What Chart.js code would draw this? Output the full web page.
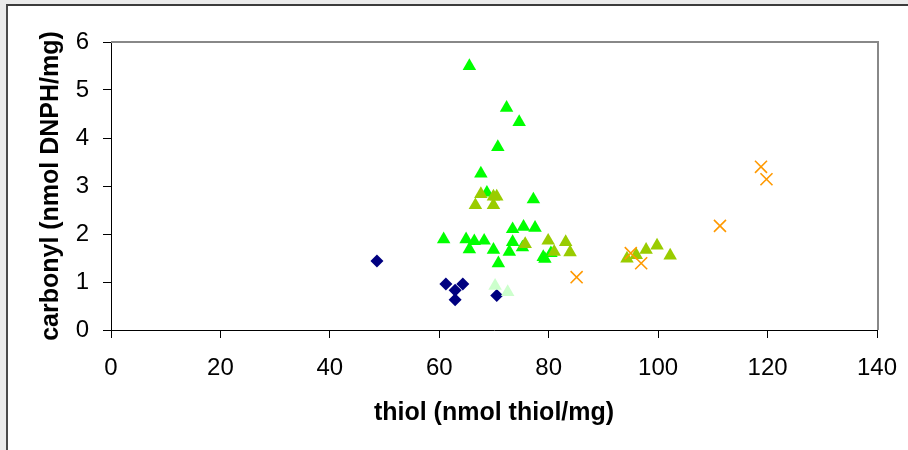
<!DOCTYPE html>
<html>
<head>
<meta charset="utf-8">
<script src="https://cdn.jsdelivr.net/npm/chart.js@4.4.1/dist/chart.umd.min.js"></script>
<style>
  html, body { margin: 0; padding: 0; background: #ebebeb; overflow: hidden; width: 908px; height: 450px; }
  #frame {
    position: absolute; left: 6px; top: 4px; width: 900px; height: 444px;
    border-top: 2px solid #3c3c3c; border-left: 2px solid #4a4a4a;
    background: #fff;
  }
  #wrap { position: absolute; left: 0; top: 0; width: 900px; height: 444px; }
</style>
</head>
<body>
<div id="frame"><div id="wrap"><canvas id="scatterChart"></canvas></div></div>
<script>
// valores (thiol, carbonyl)
const navyX = [48.6, 61.2, 64.3, 62.9, 62.9, 70.5];
const navyY = [1.44, 0.96, 0.96, 0.83, 0.63, 0.72];

const greenX = [65.5, 72.3, 74.6, 70.7, 67.6, 68.7, 77.2, 60.8, 64.9, 66.4, 68.2, 65.5,
                69.9, 70.8, 73.4, 75.4, 77.5, 73.4, 72.8, 75.2, 79.0, 79.3, 80.4];
const greenY = [5.50, 4.63, 4.33, 3.81, 3.26, 2.86, 2.72, 1.89, 1.89, 1.85, 1.86, 1.68,
                1.67, 1.39, 2.10, 2.15, 2.13, 1.83, 1.63, 1.72, 1.52, 1.48, 1.60];

const paleX = [70.2, 72.5];
const paleY = [0.92, 0.79];

const oliveX = [67.6, 66.6, 69.9, 70.5, 69.9, 75.7, 79.9, 81.0, 83.1, 83.9, 94.3, 96.0, 97.8, 99.8, 102.2];
const oliveY = [2.83, 2.60, 2.78, 2.78, 2.60, 1.79, 1.86, 1.63, 1.83, 1.62, 1.49, 1.56, 1.67, 1.76, 1.55];

const orangeX = [85.1, 95.0, 96.9, 111.3, 118.8, 119.8];
const orangeY = [1.10, 1.60, 1.39, 2.17, 3.40, 3.14];

const xTicks = [0, 20, 40, 60, 80, 100, 120, 140];
const yTicks = [0, 1, 2, 3, 4, 5, 6];

function toPoints(xs, ys) {
    return xs.map((x, i) => ({ x: x, y: ys[i] }));
}

Chart.defaults.font.family = '"Liberation Sans", Arial, sans-serif';
Chart.defaults.color = '#000';

// borde gris arriba y a la derecha del area del grafico
const plotFrame = {
    id: 'plotFrame',
    afterDraw(chart) {
        const { ctx, chartArea: a } = chart;
        ctx.save();
        ctx.strokeStyle = '#888888';
        ctx.lineWidth = 2;
        ctx.beginPath();
        ctx.moveTo(a.left, a.top);
        ctx.lineTo(a.right + 1, a.top);
        ctx.lineTo(a.right + 1, a.bottom);
        ctx.stroke();
        ctx.restore();
    }
};

const ctx = document.getElementById('scatterChart').getContext('2d');
const scatterChart = new Chart(ctx, {
    type: 'scatter',
    data: {
        datasets: [
            { data: toPoints(orangeX, orangeY), pointStyle: 'crossRot', radius: 8.5,
              borderColor: '#ff9900', backgroundColor: '#ff9900', borderWidth: 1.6 },
            { data: toPoints(oliveX, oliveY), pointStyle: 'triangle', radius: 7.8,
              borderColor: '#99cc00', backgroundColor: '#99cc00', borderWidth: 0 },
            { data: toPoints(paleX, paleY), pointStyle: 'triangle', radius: 7.8,
              borderColor: '#ccffcc', backgroundColor: '#ccffcc', borderWidth: 0 },
            { data: toPoints(greenX, greenY), pointStyle: 'triangle', radius: 7.8,
              borderColor: '#00ff00', backgroundColor: '#00ff00', borderWidth: 0 },
            { data: toPoints(navyX, navyY), pointStyle: 'rectRot', radius: 6.5,
              borderColor: '#000080', backgroundColor: '#000080', borderWidth: 0 }
        ]
    },
    options: {
        responsive: true,
        maintainAspectRatio: false,
        animation: false,
        events: [],
        layout: { padding: { top: 36, right: 31, left: 0, bottom: 0 } },
        scales: {
            x: {
                type: 'linear', min: 0, max: 140,
                afterFit: (s) => { s.height = 120; s.paddingLeft = 0; s.paddingRight = 0; },
                afterBuildTicks: (s) => { s.ticks = xTicks.map(v => ({ value: v })); },
                grid: { drawOnChartArea: false, drawTicks: true, tickLength: 8, color: '#000' },
                border: { color: '#000', width: 1 },
                ticks: { font: { size: 24 }, padding: 16, maxRotation: 0 },
                title: { display: true, text: 'thiol (nmol thiol/mg)',
                         font: { size: 25, weight: 'bold' }, padding: { bottom: 22 } }
            },
            y: {
                type: 'linear', min: 0, max: 6,
                afterFit: (s) => { s.width = 103; s.paddingTop = 0; s.paddingBottom = 0; },
                afterBuildTicks: (s) => { s.ticks = yTicks.map(v => ({ value: v })); },
                grid: { drawOnChartArea: false, drawTicks: true, tickLength: 8, color: '#000' },
                border: { color: '#000', width: 1 },
                ticks: { font: { size: 24 }, padding: 14 },
                title: { display: true, text: 'carbonyl (nmol DNPH/mg)',
                         font: { size: 25, weight: 'bold' }, padding: { top: 28 } }
            }
        },
        plugins: {
            legend: { display: false },
            tooltip: { enabled: false }
        }
    },
    plugins: [plotFrame]
});
</script>
</body>
</html>
